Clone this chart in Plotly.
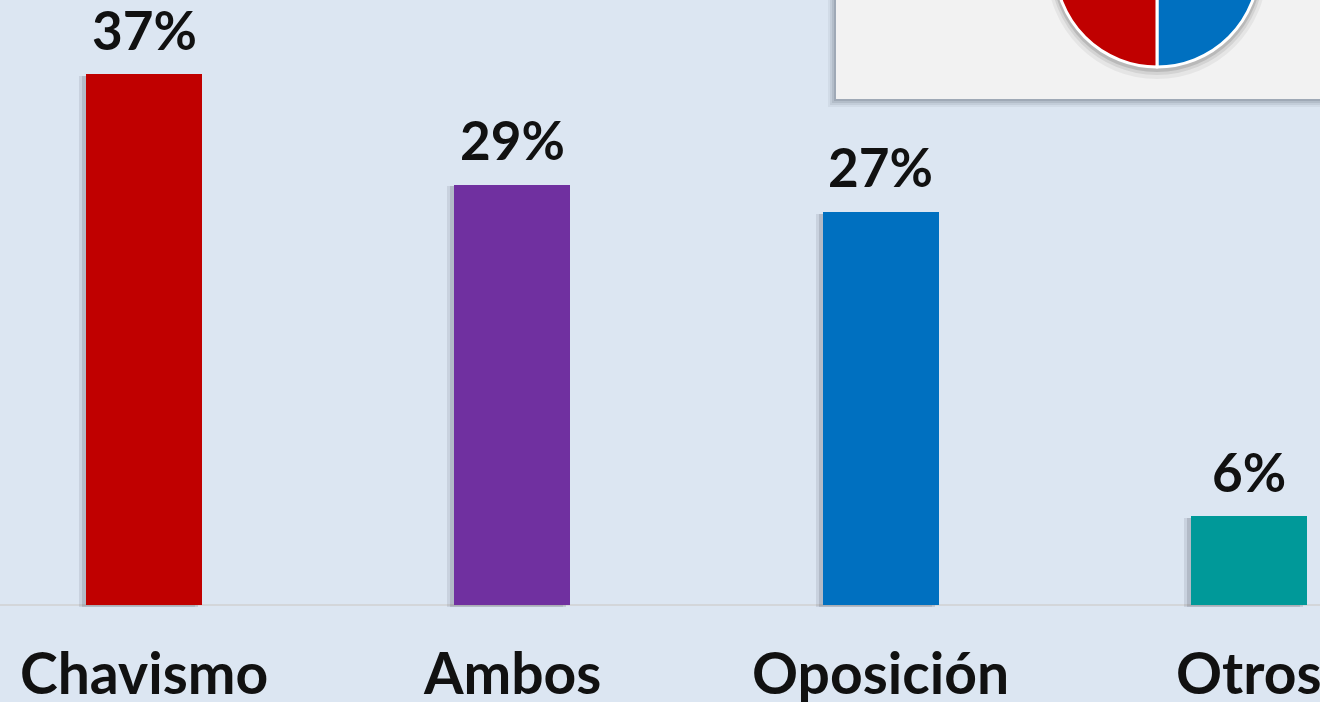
import plotly.graph_objects as go

# ---------------- data ----------------
categories = ["Chavismo", "Ambos", "Oposición", "Otros"]
values = [37.0, 29.3, 27.4, 6.2]
value_labels = ["37%", "29%", "27%", "6%"]
bar_colors = ["#C00000", "#7030A0", "#0070C0", "#009999"]

pie_labels = ["Oposición", "Chavismo"]
pie_values = [50, 50]
pie_colors = ["#0070C0", "#C00000"]

# ---------------- layout constants ----------------
W = 1320
H_VIS = 702
SHIFT = 150            # hidden band above the visible window (for the cropped pie)
H = H_VIS + SHIFT
BG = "#DCE6F2"
TXT = "#111111"
FONT = "Lato"

PX_PER_UNIT = 14.35
BASE_PX = 605          # baseline pixel (visible window coords)
CAT_PX = 368.3         # pixels between category centres
FIRST_PX = 144         # pixel centre of first category
BAR_W = 116 / CAT_PX

y_top = BASE_PX / PX_PER_UNIT
y_bot = -(H_VIS - BASE_PX) / PX_PER_UNIT
x_lo = -FIRST_PX / CAT_PX
x_hi = x_lo + W / CAT_PX


def px_x(p):
    return p / W


def px_y(p):  # p = pixel from top in visible-window coords
    return 1 - (p + SHIFT) / H


fig = go.Figure()

# bar shadows (soft, two layers)
for off, a in [(7, 0.10), (4, 0.14)]:
    fig.add_trace(go.Bar(
        x=categories, y=values, base=-0.12,
        width=BAR_W, offset=-BAR_W / 2 - off / CAT_PX,
        marker=dict(color=f"rgba(40,40,60,{a})", line=dict(width=0)),
        hoverinfo="skip", showlegend=False,
    ))
# bars
fig.add_trace(go.Bar(
    x=categories, y=values,
    width=BAR_W, offset=-BAR_W / 2,
    marker=dict(color=bar_colors, line=dict(width=0)),
    showlegend=False,
))

annotations = []
for c, v, lab in zip(categories, values, value_labels):
    annotations.append(dict(
        x=c, y=v, xref="x", yref="y", text=f"<b>{lab}</b>", showarrow=False,
        yanchor="middle", xanchor="center", yshift=45,
        font=dict(family=FONT, size=53, color=TXT),
    ))
    annotations.append(dict(
        x=c, y=-67 / PX_PER_UNIT, xref="x", yref="y", text=f"<b>{c}</b>",
        showarrow=False, yanchor="middle", xanchor="center",
        font=dict(family=FONT, size=57, color=TXT),
    ))

# inset box with shadow
shapes = []
box_left = 836
box_bottom = 99
for off, a in [(8, 0.06), (6, 0.08), (4, 0.10), (2, 0.14)]:
    shapes.append(dict(
        type="rect", xref="paper", yref="paper", layer="below",
        x0=px_x(box_left - off), x1=1.05, y0=px_y(box_bottom + off), y1=1.0,
        fillcolor=f"rgba(40,50,70,{a})", line=dict(width=0),
    ))
shapes.append(dict(
    type="rect", xref="paper", yref="paper", layer="below",
    x0=px_x(box_left), x1=1.05, y0=px_y(box_bottom), y1=1.0,
    fillcolor="#F2F2F2", line=dict(width=0),
))

# pie geometry (centre above the visible window)
pie_cx, pie_cy, pie_r = 1157, -35, 102
for grow, dy, a in [(8, 4, 0.05), (5, 3, 0.08), (3, 2, 0.12)]:
    shapes.append(dict(
        type="circle", xref="paper", yref="paper", layer="below",
        x0=px_x(pie_cx - pie_r - grow), x1=px_x(pie_cx + pie_r + grow),
        y0=px_y(pie_cy + pie_r + grow + dy), y1=px_y(pie_cy - pie_r - grow + dy),
        fillcolor=f"rgba(0,0,0,{a})", line=dict(width=0),
    ))

fig.add_trace(go.Pie(
    labels=pie_labels, values=pie_values, sort=False,
    direction="clockwise", rotation=0,
    marker=dict(colors=pie_colors, line=dict(color="white", width=3)),
    textinfo="none", hoverinfo="label+percent", showlegend=False,
    domain=dict(x=[px_x(pie_cx - pie_r), px_x(pie_cx + pie_r)],
                y=[px_y(pie_cy + pie_r), px_y(pie_cy - pie_r)]),
))

fig.update_layout(
    width=W, height=H,
    margin=dict(l=0, r=0, t=0, b=0),
    paper_bgcolor=BG, plot_bgcolor=BG,
    barmode="overlay",
    bargap=0,
    xaxis=dict(range=[x_lo, x_hi], showticklabels=False, showgrid=False,
               zeroline=False, showline=False, ticks="", fixedrange=True),
    yaxis=dict(range=[y_bot, y_top], domain=[0, H_VIS / H], showticklabels=False,
               showgrid=False, zeroline=True, zerolinecolor="#D3D6DA",
               zerolinewidth=2, showline=False, ticks="", fixedrange=True),
    annotations=annotations,
    shapes=shapes,
    showlegend=False,
)

post = (
    "document.body.style.margin='0';"
    "document.body.style.overflow='hidden';"
    "var d=document.getElementById('{plot_id}');"
    "d.style.marginTop='-" + str(SHIFT) + "px';"
)

fig.write_html("out.html", config={"displayModeBar": False}, post_script=post)
